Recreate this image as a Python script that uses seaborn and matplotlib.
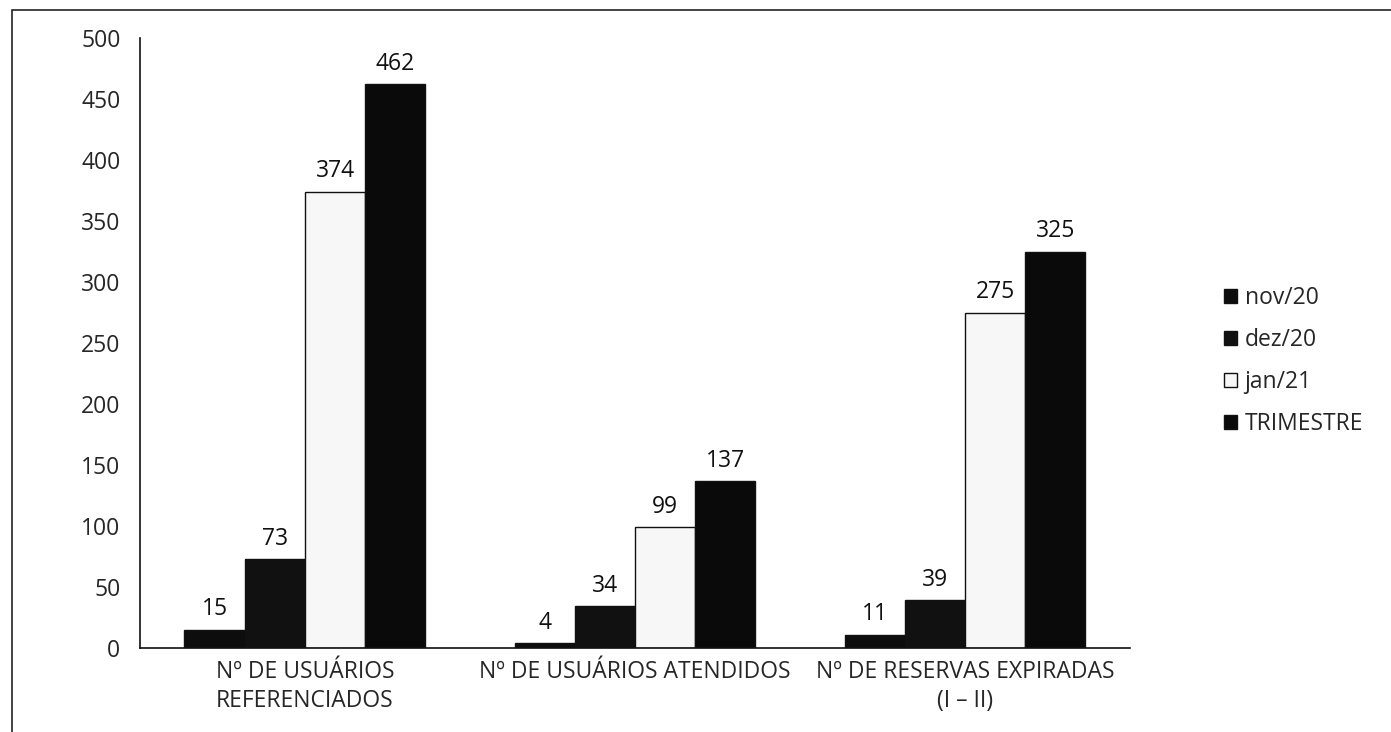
import pandas as pd
import matplotlib
matplotlib.use("Agg")
import matplotlib.pyplot as plt
import seaborn as sns
from matplotlib.patches import Rectangle

# Data
categories = ["Nº DE USUÁRIOS\nREFERENCIADOS", "Nº DE USUÁRIOS ATENDIDOS", "Nº DE RESERVAS EXPIRADAS\n(I – II)"]
periods = ["nov/20", "dez/20", "jan/21", "TRIMESTRE"]
nov20 = [15, 4, 11]
dez20 = [73, 34, 39]
jan21 = [374, 99, 275]
trimestre = [462, 137, 325]

rows = []
for serie, vals in zip(periods, [nov20, dez20, jan21, trimestre]):
    for cat, v in zip(categories, vals):
        rows.append({"categoria": cat, "periodo": serie, "valor": v})
df = pd.DataFrame(rows)

sns.set_style("white")
plt.rcParams["font.family"] = ["Open Sans", "DejaVu Sans"]

palette = {"nov/20": "#0d0d0d", "dez/20": "#111111", "jan/21": "#f7f7f7", "TRIMESTRE": "#0a0a0a"}

fig = plt.figure(figsize=(13.91, 7.32), dpi=100)
ax = fig.add_axes([0.1006, 0.1148, 0.7118, 0.8332])

sns.barplot(data=df, x="categoria", y="valor", hue="periodo", hue_order=periods,
            order=categories, palette=palette, width=0.73, ax=ax,
            edgecolor="#111111", linewidth=1.0, saturation=1)

# value labels
for container in ax.containers:
    ax.bar_label(container, fmt="%d", padding=6, fontsize=16.5, color="#111111")

ax.set_ylim(0, 500)
ax.set_yticks(range(0, 501, 50))
ax.set_xlim(-0.5, 2.5)
ax.set_xticks([-0.5, 0.5, 1.5, 2.5])
ax.set_xticklabels([])
ax.set_xticks([0, 1, 2], minor=True)
ax.set_xticklabels(categories, minor=True, fontsize=16.5, linespacing=1.25)
ax.tick_params(axis="x", which="minor", length=0, pad=9)
ax.tick_params(axis="x", which="major", direction="out", length=7, width=1.2, color="#111111")
ax.tick_params(axis="y", direction="out", length=6, width=1.2, color="#111111", labelsize=16.5, pad=8)
ax.set_xlabel("")
ax.set_ylabel("")
for s in ["top", "right"]:
    ax.spines[s].set_visible(False)
for s in ["left", "bottom"]:
    ax.spines[s].set_color("#111111")
    ax.spines[s].set_linewidth(1.2)

# legend on the right
handles, labels = ax.get_legend_handles_labels()
leg = ax.legend(handles, labels, loc="center left", bbox_to_anchor=(1.074, 0.47),
                frameon=False, fontsize=16.5, handlelength=0.55, handleheight=0.55,
                handletextpad=0.35, labelspacing=0.78)
for h in leg.legend_handles:
    h.set_edgecolor("#111111")

# outer frame of the scanned chart
fig.add_artist(Rectangle((12 / 1391, -0.05), 1.1, 1 - 10 / 732 + 0.05,
                         transform=fig.transFigure, fill=False,
                         edgecolor="#222222", linewidth=1.2))

fig.savefig("out.png", dpi=100)
